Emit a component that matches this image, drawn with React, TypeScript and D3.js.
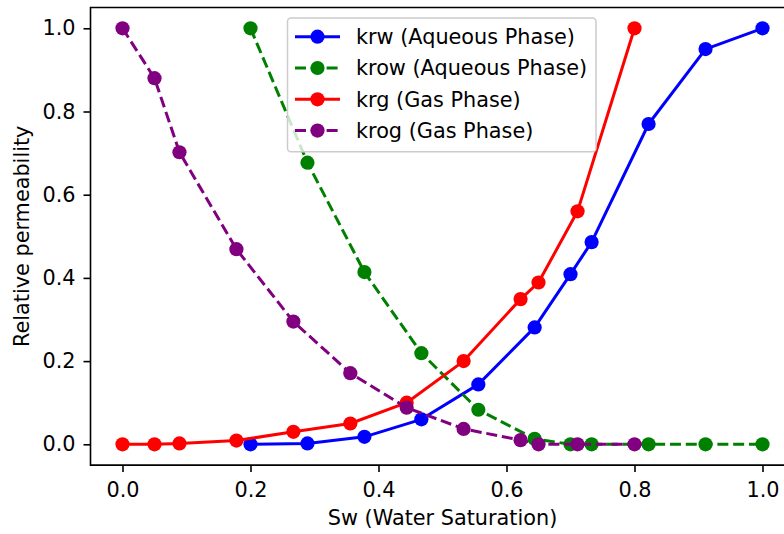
import React, { useRef, useEffect } from 'react';
import * as d3 from 'd3';

// water saturation points for the aqueous phase curves
const swAqueous = [0.2, 0.289, 0.378, 0.467, 0.556, 0.644, 0.7, 0.733, 0.822, 0.911, 1.0];
const krw = [0.0, 0.002, 0.018, 0.06, 0.144, 0.281, 0.409, 0.486, 0.77, 0.95, 1.0];
const krow = [1.0, 0.677, 0.414, 0.219, 0.083, 0.013, 0.0, 0.0, 0.0, 0.0, 0.0];

// water saturation points for the gas phase curves
const swGas = [0.0, 0.05, 0.089, 0.178, 0.267, 0.356, 0.444, 0.533, 0.622, 0.65, 0.711, 0.8];
const krg = [0.0, 0.0, 0.002, 0.009, 0.03, 0.05, 0.1, 0.2, 0.349, 0.389, 0.56, 1.0];
const krog = [1.0, 0.88, 0.702, 0.469, 0.295, 0.171, 0.088, 0.037, 0.01, 0.0, 0.0, 0.0];

const seriesNames = ['krw (Aqueous Phase)', 'krow (Aqueous Phase)', 'krg (Gas Phase)', 'krog (Gas Phase)'];
const xTicks = [0.0, 0.2, 0.4, 0.6, 0.8, 1.0];
const yTicks = [0.0, 0.2, 0.4, 0.6, 0.8, 1.0];

export default function App() {
  const svgRef = useRef<SVGSVGElement>(null);

  useEffect(() => {
    const W = 784, H = 534;
    const left = 90.5, top = 7.5, right = 794.5, bottom = 465.1;
    const font = 'DejaVu Sans, sans-serif';
    const fs = 20.8;
    const lw = 3;
    const r = 7.1;
    const dash = '11,4.8';

    const svg = d3.select(svgRef.current);
    svg.selectAll('*').remove();
    svg.attr('width', W).attr('height', H);

    const x = d3.scaleLinear().domain([-0.05, 1.05]).range([left, right]);
    const y = d3.scaleLinear().domain([-0.05, 1.05]).range([bottom, top]);

    const series = [
      { name: seriesNames[0], xs: swAqueous, ys: krw, color: '#0000ff', dash: null },
      { name: seriesNames[1], xs: swAqueous, ys: krow, color: '#008000', dash: dash },
      { name: seriesNames[2], xs: swGas, ys: krg, color: '#ff0000', dash: null },
      { name: seriesNames[3], xs: swGas, ys: krog, color: '#800080', dash: dash },
    ];

    const line = d3.line<[number, number]>().x(d => x(d[0])).y(d => y(d[1]));

    // lines + markers
    series.forEach(s => {
      const pts: [number, number][] = s.xs.map((v, i) => [v, s.ys[i]]);
      const g = svg.append('g');
      g.append('path')
        .attr('d', line(pts))
        .attr('fill', 'none')
        .attr('stroke', s.color)
        .attr('stroke-width', lw)
        .attr('stroke-dasharray', s.dash)
        .attr('stroke-linejoin', 'round');
      g.selectAll('circle')
        .data(pts)
        .enter()
        .append('circle')
        .attr('cx', d => x(d[0]))
        .attr('cy', d => y(d[1]))
        .attr('r', r)
        .attr('fill', s.color);
    });

    // spines (right side is cut off by the image)
    svg.append('path')
      .attr('d', `M${right},${top}H${left}V${bottom}H${right}`)
      .attr('fill', 'none')
      .attr('stroke', '#000')
      .attr('stroke-width', 1.6);

    // x axis
    const xg = svg.append('g')
      .attr('transform', `translate(0,${bottom})`)
      .call(d3.axisBottom(x).tickValues(xTicks).tickFormat(d3.format('.1f')).tickSize(7));
    xg.select('.domain').remove();
    xg.selectAll('line').attr('stroke-width', 1.6);
    xg.selectAll('text')
      .attr('y', 32.3).attr('dy', 0)
      .attr('font-family', font).attr('font-size', fs).attr('fill', '#000');

    // y axis
    const yg = svg.append('g')
      .attr('transform', `translate(${left},0)`)
      .call(d3.axisLeft(y).tickValues(yTicks).tickFormat(d3.format('.1f')).tickSize(7).tickPadding(8));
    yg.select('.domain').remove();
    yg.selectAll('line').attr('stroke-width', 1.6);
    yg.selectAll('text').attr('font-family', font).attr('font-size', fs).attr('fill', '#000');

    // axis labels
    svg.append('text')
      .attr('x', (left + right) / 2)
      .attr('y', 525)
      .attr('text-anchor', 'middle')
      .attr('font-family', font)
      .attr('font-size', fs)
      .text('Sw (Water Saturation)');

    svg.append('text')
      .attr('transform', `translate(29,${(top + bottom) / 2}) rotate(-90)`)
      .attr('text-anchor', 'middle')
      .attr('font-family', font)
      .attr('font-size', fs)
      .text('Relative permeability');

    // legend
    const lg = svg.append('g');
    lg.append('rect')
      .attr('x', 287.5).attr('y', 18)
      .attr('width', 308.5).attr('height', 133.7)
      .attr('rx', 3.5)
      .attr('fill', '#fff').attr('fill-opacity', 0.8)
      .attr('stroke', '#cccccc').attr('stroke-width', 1.5);
    series.forEach((s, i) => {
      const ry = 36.7 + i * 31.3;
      lg.append('line')
        .attr('x1', 295).attr('x2', 340)
        .attr('y1', ry).attr('y2', ry)
        .attr('stroke', s.color)
        .attr('stroke-width', lw)
        .attr('stroke-dasharray', s.dash);
      lg.append('circle').attr('cx', 317.5).attr('cy', ry).attr('r', r).attr('fill', s.color);
      lg.append('text')
        .attr('x', 356).attr('y', ry)
        .attr('dy', '0.36em')
        .attr('font-family', font)
        .attr('font-size', fs)
        .text(s.name);
    });
  }, []);

  return (
    <div>
      <style>{'body{margin:0}'}</style>
      <svg ref={svgRef} style={{ display: 'block' }}></svg>
    </div>
  );
}
